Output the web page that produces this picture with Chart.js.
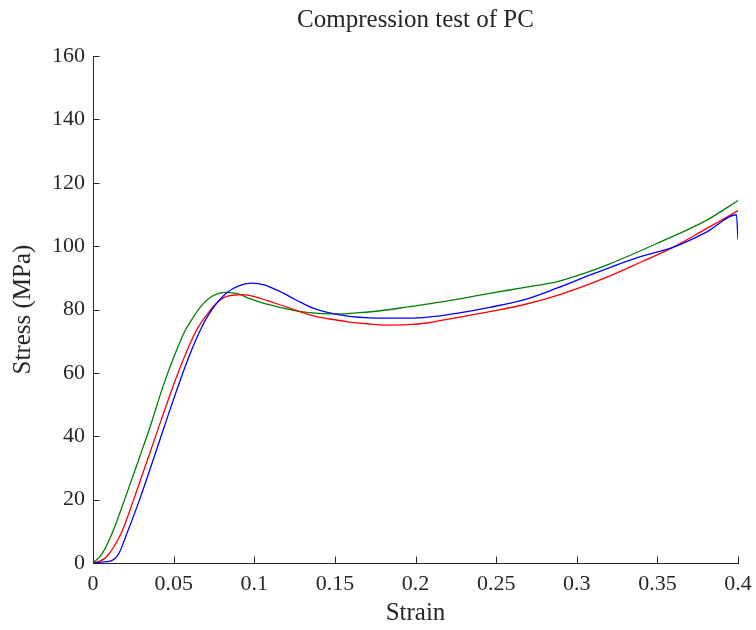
<!DOCTYPE html>
<html>
<head>
<meta charset="utf-8">
<title>Compression test of PC</title>
<script src="https://cdn.jsdelivr.net/npm/chart.js"></script>
<style>
  html, body { margin: 0; padding: 0; background: #fff; }
  #wrap { width: 756px; height: 630px; }
</style>
</head>
<body>
<div id="wrap"><canvas id="chart"></canvas></div>
<script>
// strain / stress pairs, one set per specimen
const blueStrain = [0, 0.005, 0.0107, 0.0159, 0.021, 0.0289, 0.0386, 0.0455, 0.0541, 0.0614, 0.0675, 0.0721, 0.0775, 0.083, 0.09, 0.0983, 0.106, 0.1158, 0.126, 0.1365, 0.153, 0.178, 0.1986, 0.2152, 0.2256, 0.246, 0.267, 0.288, 0.3084, 0.3394, 0.36, 0.381, 0.399, 0.4];
const blueStress = [0, 0.3, 0.6, 2.9, 9.3, 20, 34.5, 45, 57.7, 67.5, 74.5, 78.7, 82.5, 85.3, 87.4, 88.3, 87.8, 85.7, 83, 80.4, 78.3, 77.3, 77.3, 78, 78.8, 80.7, 83, 86.8, 90.9, 96.7, 99.7, 104.6, 109.9, 102.2];

const redStrain = [0, 0.004, 0.0083, 0.0174, 0.0252, 0.0351, 0.0422, 0.051, 0.0593, 0.065, 0.0711, 0.0765, 0.0817, 0.087, 0.093, 0.1, 0.108, 0.1158, 0.126, 0.1365, 0.147, 0.157, 0.17, 0.182, 0.195, 0.209, 0.2152, 0.23, 0.246, 0.267, 0.29, 0.3188, 0.34, 0.36, 0.381, 0.4];
const redStress = [0, 0.6, 1.9, 9.3, 20, 34.5, 45, 57.7, 68.2, 74.2, 78.7, 82, 83.9, 84.5, 84.7, 84.1, 82.8, 81.5, 79.7, 78, 77, 76.2, 75.5, 75.1, 75.2, 75.9, 76.5, 77.8, 79.3, 81.5, 84.8, 90.2, 95, 99.7, 105.7, 111.2];

const greenStrain = [0, 0.0056, 0.0118, 0.0196, 0.0293, 0.0351, 0.0438, 0.0521, 0.0568, 0.0634, 0.068, 0.0733, 0.078, 0.0831, 0.09, 0.0975, 0.1055, 0.1158, 0.126, 0.14, 0.153, 0.165, 0.178, 0.195, 0.215, 0.246, 0.267, 0.288, 0.305, 0.319, 0.35, 0.381, 0.4];
const greenStress = [0, 2.9, 9.3, 20, 34, 42.5, 56.3, 67.5, 73, 78.5, 81.6, 84, 85.1, 85.4, 84.9, 83.4, 82, 80.7, 79.6, 78.8, 78.6, 79, 79.6, 80.8, 82.3, 85.1, 86.9, 88.8, 91.5, 94.1, 100.9, 108.3, 114.4];

const xTicks = [0, 0.05, 0.1, 0.15, 0.2, 0.25, 0.3, 0.35, 0.4];
const yTicks = [0, 20, 40, 60, 80, 100, 120, 140, 160];

const pts = (xs, ys) => xs.map((x, i) => ({ x, y: ys[i] }));
const ink = '#262626';
const serif = '"Liberation Serif", "DejaVu Serif", serif';

// MATLAB style ticks pointing into the plot
const inwardTicks = {
  id: 'inwardTicks',
  afterDatasetsDraw(chart) {
    const { ctx, chartArea, scales: { x, y } } = chart;
    const len = 6.5;
    ctx.save();
    ctx.strokeStyle = ink;
    ctx.lineWidth = 1;
    ctx.beginPath();
    for (const v of xTicks) {
      const px = Math.round(x.getPixelForValue(v)) + 0.5;
      ctx.moveTo(px, chartArea.bottom);
      ctx.lineTo(px, chartArea.bottom - len);
    }
    for (const v of yTicks) {
      const py = Math.round(y.getPixelForValue(v)) + 0.5;
      ctx.moveTo(chartArea.left, py);
      ctx.lineTo(chartArea.left + len, py);
    }
    ctx.stroke();
    ctx.restore();
  }
};

const line = (data, color) => ({
  data, borderColor: color, backgroundColor: color,
  borderWidth: 1.3, pointRadius: 0, fill: false,
  cubicInterpolationMode: 'monotone'
});

new Chart(document.getElementById('chart'), {
  type: 'line',
  data: {
    datasets: [
      line(pts(blueStrain, blueStress), '#0000ff'),
      line(pts(redStrain, redStress), '#ff0000'),
      line(pts(greenStrain, greenStress), '#008000'),
    ]
  },
  options: {
    responsive: true,
    maintainAspectRatio: false,
    animation: false,
    layout: { padding: { left: 0, right: 18, top: 0, bottom: 0 } },
    plugins: {
      legend: { display: false },
      tooltip: { enabled: false }
    },
    scales: {
      x: {
        type: 'linear', min: 0, max: 0.4,
        afterBuildTicks: s => { s.ticks = xTicks.map(v => ({ value: v })); },
        afterFit: s => { s.height = 67; s.paddingLeft = 0; s.paddingRight = 0; },
        ticks: {
          color: ink, padding: 8, maxRotation: 0, autoSkip: false,
          font: { family: serif, size: 22 },
          callback: v => String(Number(v.toFixed(2)))
        },
        grid: { display: false, drawTicks: false },
        border: { display: true, color: ink, width: 1 },
        title: {
          display: true, text: 'Strain', color: ink,
          font: { family: serif, size: 25 },
          padding: { top: 0, bottom: 2 }
        }
      },
      // top axis only carries the title so it centres over the plot area
      top: {
        type: 'linear', position: 'top', display: true, min: 0, max: 1,
        afterFit: s => { s.height = 56; s.paddingLeft = 0; s.paddingRight = 0; },
        ticks: { display: false },
        grid: { display: false, drawTicks: false },
        border: { display: false },
        title: {
          display: true, text: 'Compression test of PC', color: ink,
          font: { family: serif, size: 25 },
          padding: { top: 5, bottom: 0 }
        }
      },
      y: {
        min: 0, max: 160,
        afterBuildTicks: s => { s.ticks = yTicks.map(v => ({ value: v })); },
        afterFit: s => { s.width = 93; },
        ticks: {
          color: ink, padding: 8, autoSkip: false,
          font: { family: serif, size: 22 }
        },
        grid: { display: false, drawTicks: false },
        border: { display: true, color: ink, width: 1 },
        title: {
          display: true, text: 'Stress (MPa)', color: ink,
          font: { family: serif, size: 25 },
          padding: { top: 8, bottom: 0 }
        }
      }
    }
  },
  plugins: [inwardTicks]
});
</script>
</body>
</html>
